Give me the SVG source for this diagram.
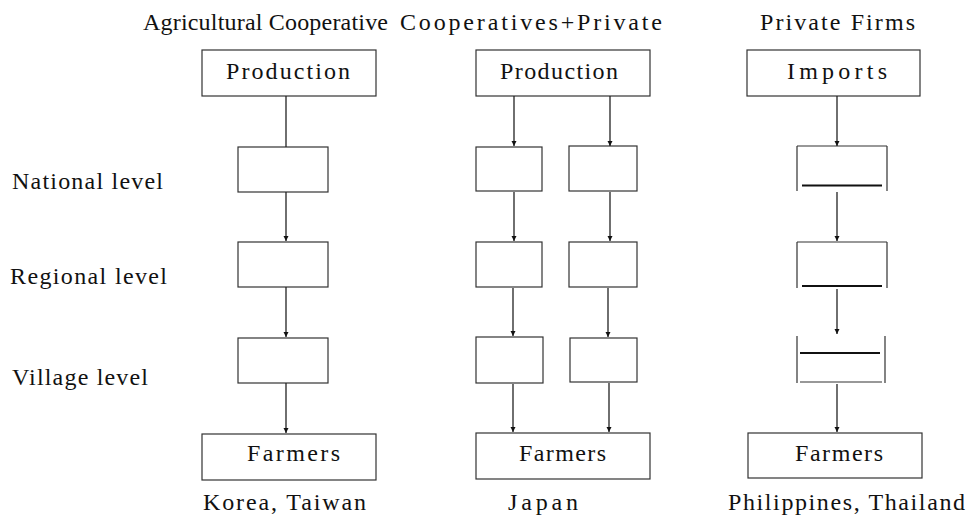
<svg xmlns="http://www.w3.org/2000/svg" width="974" height="515" viewBox="0 0 974 515" font-family="'Liberation Serif', 'DejaVu Serif', 'Times New Roman', serif">
<style>
text{font-family:"Liberation Serif","DejaVu Serif","Times New Roman",serif;font-size:24px;fill:#111}
.box{fill:none;stroke:#333;stroke-width:1.2}
.bold{fill:none;stroke:#111;stroke-width:2}
.con{fill:none;stroke:#222;stroke-width:1.3}
</style>
<defs>
<marker id="ah" viewBox="0 0 10 10" refX="10" refY="5" markerWidth="5" markerHeight="6" markerUnits="userSpaceOnUse" orient="auto">
<path d="M0,0 L10,5 L0,10 z" fill="#111"/>
</marker>
</defs>
<rect width="974" height="515" fill="#fff"/>

<g id="headers">
<text x="143" y="30" textLength="245" lengthAdjust="spacing">Agricultural Cooperative</text>
<text x="400" y="30" textLength="262" lengthAdjust="spacing">Cooperatives+Private</text>
<text x="760" y="30" textLength="155" lengthAdjust="spacing">Private Firms</text>
</g>
<g id="levels">
<text x="12" y="189" textLength="151" lengthAdjust="spacing">National level</text>
<text x="10" y="284" textLength="157" lengthAdjust="spacing">Regional level</text>
<text x="12" y="385" textLength="136" lengthAdjust="spacing">Village level</text>
</g>
<g id="countries">
<text x="203" y="510" textLength="163" lengthAdjust="spacing">Korea, Taiwan</text>
<text x="508" y="510" textLength="70" lengthAdjust="spacing">Japan</text>
<text x="728" y="510" textLength="237" lengthAdjust="spacing">Philippines, Thailand</text>
</g>

<g id="c1-production"><rect class="box" x="202" y="50" width="174" height="46"/><text x="226" y="79" textLength="124" lengthAdjust="spacing">Production</text></g>
<g id="c1-national"><rect class="box" x="238" y="147" width="90" height="45"/></g>
<g id="c1-regional"><rect class="box" x="238" y="242" width="90" height="45"/></g>
<g id="c1-village"><rect class="box" x="238" y="338" width="90" height="45"/></g>
<g id="c1-farmers"><rect class="box" x="202" y="434" width="174" height="46"/><text x="247" y="461" textLength="93" lengthAdjust="spacing">Farmers</text></g>

<g id="c2-production"><rect class="box" x="476" y="50" width="174" height="46"/><text x="500" y="79" textLength="118" lengthAdjust="spacing">Production</text></g>
<g id="c2-national-a"><rect class="box" x="476" y="147" width="66" height="44"/></g>
<g id="c2-national-b"><rect class="box" x="569" y="146" width="68" height="45"/></g>
<g id="c2-regional-a"><rect class="box" x="476" y="242" width="66" height="45"/></g>
<g id="c2-regional-b"><rect class="box" x="569" y="242" width="68" height="45"/></g>
<g id="c2-village-a"><rect class="box" x="476" y="337" width="67" height="46"/></g>
<g id="c2-village-b"><rect class="box" x="570" y="338" width="67" height="44"/></g>
<g id="c2-farmers"><rect class="box" x="476" y="433" width="174" height="46"/><text x="519" y="461" textLength="87" lengthAdjust="spacing">Farmers</text></g>

<g id="c3-imports"><rect class="box" x="747" y="50" width="173" height="46"/><text x="787" y="79" textLength="100" lengthAdjust="spacing">Imports</text></g>
<g id="c3-national"><path class="box" d="M797,146 H887 M797,146 V191 M887,146 V191"/><path class="bold" d="M802,185.5 H882"/></g>
<g id="c3-regional"><path class="box" d="M797,242 H887 M797,242 V288 M887,242 V288"/><path class="bold" d="M802,286 H882"/></g>
<g id="c3-village"><path class="box" d="M797,336 V383 M885,336 V383 M800,382 H882"/><path class="bold" d="M800,353 H880"/></g>
<g id="c3-farmers"><rect class="box" x="748" y="433" width="174" height="45"/><text x="795" y="461" textLength="88" lengthAdjust="spacing">Farmers</text></g>

<g id="connectors">
<line class="con" x1="286" y1="96" x2="286" y2="147"/>
<line class="con" x1="286" y1="192" x2="286" y2="241" marker-end="url(#ah)"/>
<line class="con" x1="286" y1="287" x2="286" y2="337" marker-end="url(#ah)"/>
<line class="con" x1="286" y1="383" x2="286" y2="433" marker-end="url(#ah)"/>

<line class="con" x1="514" y1="96" x2="514" y2="146" marker-end="url(#ah)"/>
<line class="con" x1="610" y1="96" x2="610" y2="146" marker-end="url(#ah)"/>
<line class="con" x1="514" y1="192" x2="514" y2="241" marker-end="url(#ah)"/>
<line class="con" x1="610" y1="192" x2="610" y2="241" marker-end="url(#ah)"/>
<line class="con" x1="513" y1="288" x2="513" y2="336" marker-end="url(#ah)"/>
<line class="con" x1="608" y1="288" x2="608" y2="337" marker-end="url(#ah)"/>
<line class="con" x1="513" y1="384" x2="513" y2="432" marker-end="url(#ah)"/>
<line class="con" x1="609" y1="383" x2="609" y2="432" marker-end="url(#ah)"/>

<line class="con" x1="837" y1="96" x2="837" y2="146" marker-end="url(#ah)"/>
<line class="con" x1="837" y1="192" x2="837" y2="241" marker-end="url(#ah)"/>
<line class="con" x1="837" y1="289" x2="837" y2="334" marker-end="url(#ah)"/>
<line class="con" x1="837" y1="384" x2="837" y2="432" marker-end="url(#ah)"/>
</g>
</svg>
